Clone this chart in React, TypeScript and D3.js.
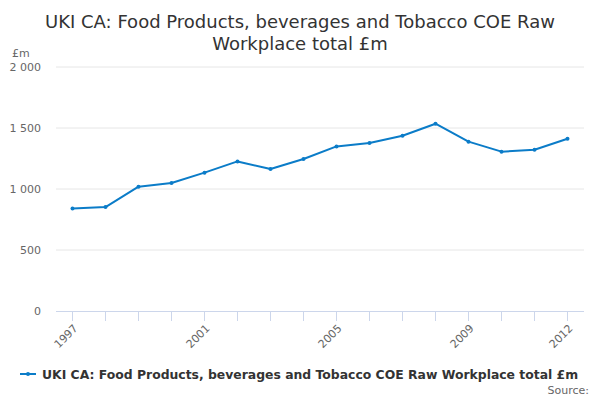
import React from 'react';
import * as d3 from 'd3';

const years = ['1997', '1998', '1999', '2000', '2001', '2002', '2003', '2004',
  '2005', '2006', '2007', '2008', '2009', '2010', '2011', '2012'];
const values = [841, 852, 1019, 1049, 1134, 1226, 1164, 1246,
  1349, 1377, 1437, 1535, 1388, 1306, 1322, 1412];
const yTicks = [0, 500, 1000, 1500, 2000];
const xLabelYears = ['1997', '2001', '2005', '2009', '2012'];

const titleLines = ['UKI CA: Food Products, beverages and Tobacco COE Raw', 'Workplace total £m'];
const seriesName = 'UKI CA: Food Products, beverages and Tobacco COE Raw Workplace total £m';

const W = 600;
const H = 400;
const font = '"DejaVu Sans", sans-serif';
const lineColor = '#0b7cc8';

const App: React.FC = () => {
  const left = 56;
  const right = 584;
  const top = 67;
  const bottom = 311;

  const x = d3.scaleBand<string>().domain(years).range([left, right]);
  const cx = (yr: string) => (x(yr) ?? 0) + x.bandwidth() / 2;
  const y = d3.scaleLinear().domain([0, 2000]).range([bottom, top]);

  const line = d3.line<number>()
    .x((_, i) => cx(years[i]))
    .y(d => y(d));

  const fmt = (v: number) => d3.format(',')(v).replace(/,/g, ' ');

  return (
    <svg width={W} height={H} style={{ position: 'absolute', left: 0, top: 0, fontFamily: font }}>
      <rect width={W} height={H} fill="#fff" />

      {/* Title */}
      <text x={W / 2} y={28} textAnchor="middle" fontSize={18} fill="#333">
        {titleLines.map((t, i) => (
          <tspan key={i} x={W / 2} dy={i === 0 ? 0 : 22}>{t}</tspan>
        ))}
      </text>

      {/* Unit label */}
      <text x={12} y={57} fontSize={11} fill="#666">£m</text>

      {/* Grid + y labels */}
      {yTicks.map(t => (
        <g key={t}>
          {t > 0 && (
            <line x1={left} x2={right} y1={y(t)} y2={y(t)} stroke="#e6e6e6" strokeWidth={1} />
          )}
          <text x={41} y={y(t) + 4} textAnchor="end" fontSize={11} fill="#666">{fmt(t)}</text>
        </g>
      ))}

      {/* X axis */}
      <line x1={left} x2={right} y1={bottom + 0.5} y2={bottom + 0.5} stroke="#ccd6eb" strokeWidth={1} />
      {years.map(yr => (
        <line key={yr} x1={cx(yr)} x2={cx(yr)} y1={bottom} y2={bottom + 10} stroke="#ccd6eb" strokeWidth={1} />
      ))}
      {xLabelYears.map(yr => {
        const lx = cx(yr) + 6;
        const ly = bottom + 18;
        return (
          <text key={yr} x={lx} y={ly} textAnchor="end" fontSize={11} fill="#666"
            transform={`rotate(-45, ${lx}, ${ly})`}>{yr}</text>
        );
      })}

      {/* Series */}
      <path d={line(values) ?? ''} fill="none" stroke={lineColor} strokeWidth={2} strokeLinejoin="round" />
      {values.map((v, i) => (
        <circle key={i} cx={cx(years[i])} cy={y(v)} r={2} fill={lineColor} />
      ))}

      {/* Legend */}
      <g transform="translate(20, 374)">
        <line x1={0} x2={16} y1={0} y2={0} stroke={lineColor} strokeWidth={2} />
        <circle cx={8} cy={0} r={2} fill={lineColor} />
        <text x={22} y={4.5} fontSize={12.4} fontWeight="bold" fill="#333">{seriesName}</text>
      </g>

      {/* Credits */}
      <text x={589} y={394} textAnchor="end" fontSize={11} fill="#666">Source:</text>
    </svg>
  );
};

export default App;
